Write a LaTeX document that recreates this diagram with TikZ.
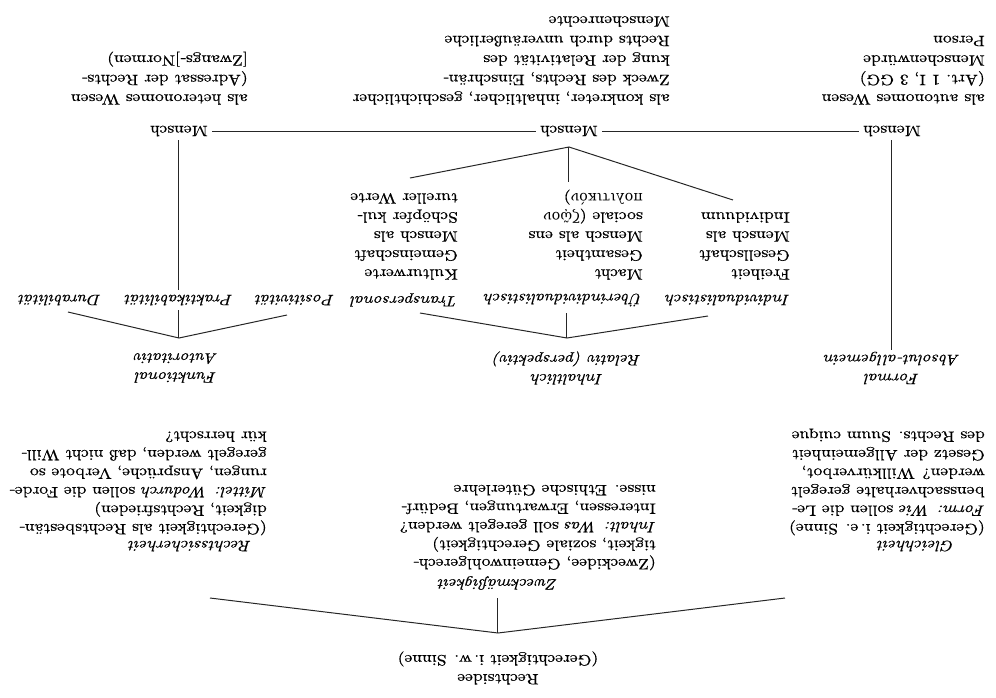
\documentclass[tikz,border=0pt]{standalone}
\usepackage{fontspec}
\setmainfont{lmroman10}[Extension=.otf, UprightFont=*-regular, ItalicFont=*-italic, BoldFont=*-bold, BoldItalicFont=*-bolditalic, FakeStretch=1.17, FakeBold=0.5]
\newfontfamily\grk{DejaVu Serif}[Scale=0.95]
\begin{document}
\begin{tikzpicture}[x=1pt,y=1pt,rotate=180,transform shape,
  every node/.style={font=\fontsize{15}{19}\selectfont, inner sep=2pt, text=black},
  lab/.style={font=\fontsize{15}{19}\selectfont\itshape},
  blk/.style={align=left, anchor=north west, inner sep=0pt},
  topblk/.style={blk, font=\fontsize{15}{19.5}\selectfont},
  botblk/.style={blk, font=\fontsize{15}{18.5}\selectfont},
  ln/.style={line width=1pt, draw=black!85}]
\useasboundingbox (0,0) rectangle (996,697);

% --- Rechtsidee and its three branches
\node[align=center] (R) at (498,668) {Rechtsidee\\(Gerechtigkeit i.\,w. Sinne)};
\coordinate (R0) at (498,633);
\node[lab] (G) at (80,546) {Gleichheit};
\node[lab] (Z) at (498,583) {Zweckmäßigkeit};
\node[lab] (S) at (806,546) {Rechtssicherheit};
\coordinate (Ga) at (211,598);
\coordinate (Za) at (498,598);
\coordinate (Sa) at (786,598);
\draw[ln] (Ga) -- (R0) -- (Sa);
\draw[ln] (R0) -- (Za);

\node[botblk] (Gt) at (11,535.5) {(Gerechtigkeit i.\,e. Sinne)\\\textit{Form: Wie} sollen die Le-\\benssachverhalte geregelt\\werden? Willkürverbot,\\Gesetz der Allgemeinheit\\des Rechts. Suum cuique};
\node[botblk] (Zt) at (340,570.5) {(Zweckidee, Gemeinwohlgerech-\\tigkeit, soziale Gerechtigkeit)\\\textit{Inhalt: Was} soll geregelt werden?\\Interessen, Erwartungen, Bedürf-\\nisse. Ethische Güterlehre};
\node[botblk] (St) at (729,535.5) {(Gerechtigkeit als Rechtsbestän-\\digkeit, Rechtsfrieden)\\\textit{Mittel: Wodurch} sollen die Forde-\\rungen, Ansprüche, Verbote so\\geregelt werden, daß nicht Will-\\kür herrscht?};

% --- Formal / Inhaltlich / Funktional
\node[lab, align=center] (F) at (104,368) {Formal\\Absolut-allgemein};
\node[lab, align=center] (I) at (429,368) {Inhaltlich\\Relativ (perspektiv)};
\node[lab, align=center] (Fu) at (820,368) {Funktional\\Autoritativ};
\coordinate (I0) at (429,338);
\coordinate (F0) at (817,338);

\node[lab, anchor=west, inner sep=0pt] (Hi) at (206,300) {Individualistisch};
\node[lab, anchor=west, inner sep=0pt] (Hu) at (353,300) {Überindividualistisch};
\node[lab, anchor=west, inner sep=0pt] (Ht) at (538,300) {Transpersonal};
\node[lab] (Po) at (701,300) {Positivität};
\node[lab, inner sep=5pt] (Pr) at (817,300) {Praktikabilität};
\node[lab] (Du) at (936,300) {Durabilität};

\coordinate (Hia) at (288,316);
\coordinate (Hua) at (429,313);
\coordinate (Hta) at (576,313);
\draw[ln] (Hia) -- (I0) -- (Hta);
\draw[ln] (I0) -- (Hua);
\coordinate (Poa) at (709,315);
\coordinate (Dua) at (928,312);
\draw[ln] (Poa) -- (F0) -- (Dua);
\draw[ln] (F0) -- (Pr);

\node[blk] (Ci) at (206,280) {Freiheit\\Gesellschaft\\Mensch als\\Individuum};
\node[blk] (Cu) at (353,280) {Macht\\Gesamtheit\\Mensch als ens\\sociale ({\grk ζῷον}\\{\grk πολιτικόν})};
\node[blk] (Ct) at (538,280) {Kulturwerte\\Gemeinschaft\\Mensch als\\Schöpfer kul-\\tureller Werte};

% --- Mensch row
\node[inner sep=4pt] (Ml) at (104,131) {Mensch};
\node[inner sep=4pt] (Mm) at (427,131) {Mensch};
\node[inner sep=4pt] (Mr) at (817,131) {Mensch};
\draw[ln] (Ml) -- (Mm);
\draw[ln] (Mm) -- (Mr);
\draw[ln] (F) -- (Ml);
\draw[ln] (Pr) -- (Mr);
\coordinate (Mm0) at (427,147);
\coordinate (Cia) at (263,200);
\coordinate (Cua) at (427,182);
\coordinate (Cta) at (586,178);
\draw[ln] (Cia) -- (Mm0) -- (Cta);
\draw[ln] (Mm0) -- (Cua);

% --- texts under Mensch
\node[topblk] (Ta) at (11,105) {als autonomes Wesen\\(Art.~1~I, 3~GG)\\Menschenwürde\\Person};
\node[topblk] (Tk) at (326,105) {als konkreter, inhaltlicher, geschichtlicher\\Zweck des Rechts, Einschrän-\\kung der Relativität des\\Rechts durch unveräußerliche\\Menschenrechte};
\node[topblk] (Th) at (748,105) {als heteronomes Wesen\\(Adressat der Rechts-\\{[}Zwangs-{]}Normen)};
\end{tikzpicture}
\end{document}
